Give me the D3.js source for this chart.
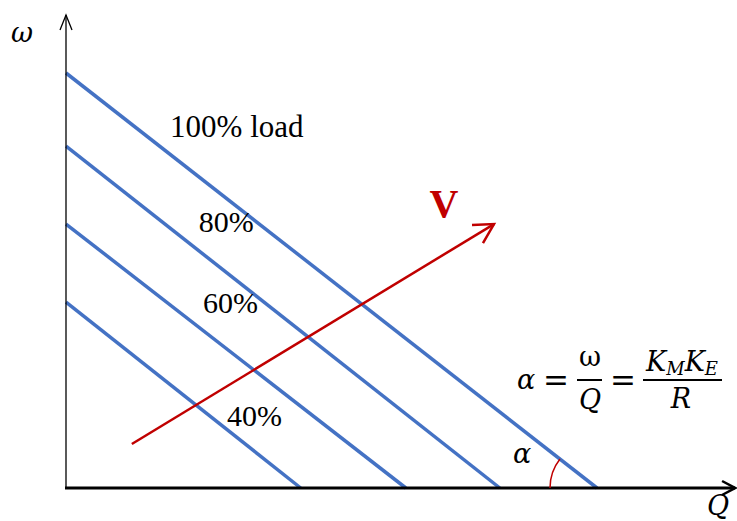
<!DOCTYPE html>
<html>
<head>
<meta charset="utf-8">
<script src="https://cdn.jsdelivr.net/npm/d3@7"></script>
<style>
  html, body { margin: 0; padding: 0; background: #fff; }
  svg { display: block; }
  text { font-family: "Liberation Serif", "Times New Roman", serif; }
  text.math, .math text { font-family: "DejaVu Serif", serif; }
</style>
</head>
<body>
<svg id="chart" width="737" height="521"></svg>
<script>
// Load lines: speed intercept (ω at Q = 0) and torque intercept (Q at ω = 0)
const loadLabels = ["100% load", "80%", "60%", "40%"];
const omegaIntercepts = [100, 82.4, 63.6, 44.8];
const qIntercepts = [100, 81.7, 64.0, 44.2];
// label anchor positions in data units
const labelQ = [19.6, 25.0, 25.8, 30.3];
const labelW = [84.6, 61.7, 42.2, 14.9];

// Voltage arrow (start, end) in data units
const vArrowQ = [12.4, 80.6];
const vArrowW = [10.6, 63.6];

// Axis extents in data units
const qMax = 126;
const wMax = 114;

const svg = d3.select("#chart");
const x = d3.scaleLinear().domain([0, 100]).range([66, 597]);
const y = d3.scaleLinear().domain([0, 100]).range([488, 73]);

const blue = "#4472C4";
const red = "#C00000";

// Load lines
svg.append("g").selectAll("line")
  .data(omegaIntercepts)
  .join("line")
  .attr("x1", x(0)).attr("y1", d => y(d))
  .attr("x2", (d, i) => x(qIntercepts[i])).attr("y2", y(0))
  .attr("stroke", blue).attr("stroke-width", 3.5);

// Axes
svg.append("line")
  .attr("x1", x(0)).attr("y1", y(0)).attr("x2", x(0)).attr("y2", y(wMax))
  .attr("stroke", "#000").attr("stroke-width", 1.3);
svg.append("path")
  .attr("d", `M${x(0) - 6},${y(wMax) + 15} L${x(0)},${y(wMax)} L${x(0) + 6},${y(wMax) + 15}`)
  .attr("fill", "none").attr("stroke", "#000").attr("stroke-width", 1.3);

svg.append("line")
  .attr("x1", x(0) - 1).attr("y1", y(0)).attr("x2", x(qMax)).attr("y2", y(0))
  .attr("stroke", "#000").attr("stroke-width", 3);
svg.append("path")
  .attr("d", `M${x(qMax) - 13},${y(0) - 7} L${x(qMax)},${y(0)} L${x(qMax) - 13},${y(0) + 7}`)
  .attr("fill", "none").attr("stroke", "#000").attr("stroke-width", 2.5);

// Angle arc at the 100% line's Q intercept
const q0 = x(qIntercepts[0]);
const slopeAngle = Math.atan2(y(0) - y(omegaIntercepts[0]), q0 - x(0));
const r = 47;
svg.append("path")
  .attr("d", `M${q0 - r},${y(0)} A${r},${r} 0 0 1 ${q0 - r * Math.cos(slopeAngle)},${y(0) - r * Math.sin(slopeAngle)}`)
  .attr("fill", "none").attr("stroke", red).attr("stroke-width", 1.5);

// Voltage arrow
const ax1 = x(vArrowQ[0]), ay1 = y(vArrowW[0]);
const ax2 = x(vArrowQ[1]), ay2 = y(vArrowW[1]);
svg.append("line")
  .attr("x1", ax1).attr("y1", ay1).attr("x2", ax2).attr("y2", ay2)
  .attr("stroke", red).attr("stroke-width", 2.5);
const ang = Math.atan2(ay2 - ay1, ax2 - ax1);
const head = 22, spread = 0.5;
svg.append("path")
  .attr("d", `M${ax2 - head * Math.cos(ang - spread)},${ay2 - head * Math.sin(ang - spread)} L${ax2},${ay2} L${ax2 - head * Math.cos(ang + spread)},${ay2 - head * Math.sin(ang + spread)}`)
  .attr("fill", "none").attr("stroke", red).attr("stroke-width", 2.5)
  .attr("stroke-linejoin", "miter");
svg.append("text")
  .attr("x", 444).attr("y", 217)
  .attr("text-anchor", "middle")
  .attr("font-size", 40).attr("font-weight", "bold").attr("fill", red)
  .text("V");

// Load labels
svg.append("g").selectAll("text")
  .data(loadLabels)
  .join("text")
  .attr("x", (d, i) => x(labelQ[i]))
  .attr("y", (d, i) => y(labelW[i]))
  .attr("font-size", (d, i) => i === 0 ? 31 : 30)
  .attr("fill", "#000")
  .text(d => d);

// Axis titles
svg.append("text").attr("class", "math").attr("x", 11).attr("y", 42)
  .attr("font-size", 27).attr("font-style", "italic").text("ω");
svg.append("text").attr("class", "math").attr("x", 707).attr("y", 515)
  .attr("font-size", 27).attr("font-style", "italic").text("Q");

// Angle label
svg.append("text").attr("class", "math").attr("x", 513).attr("y", 463)
  .attr("font-size", 27).attr("font-style", "italic").text("α");

// Slope formula
const f = svg.append("g").attr("class", "math").attr("font-size", 27);
f.append("text").attr("x", 526).attr("y", 389).attr("text-anchor", "middle").attr("font-style", "italic").text("α");
f.append("text").attr("x", 556).attr("y", 391).attr("text-anchor", "middle").attr("font-size", 31).text("=");
f.append("text").attr("x", 590).attr("y", 366).attr("text-anchor", "middle").text("ω");
f.append("line").attr("x1", 577).attr("x2", 602).attr("y1", 380).attr("y2", 380)
  .attr("stroke", "#000").attr("stroke-width", 2);
f.append("text").attr("x", 590).attr("y", 409).attr("text-anchor", "middle").attr("font-style", "italic").text("Q");
f.append("text").attr("x", 623).attr("y", 391).attr("text-anchor", "middle").attr("font-size", 31).text("=");
const num = f.append("text").attr("x", 682).attr("y", 371).attr("text-anchor", "middle").attr("font-style", "italic");
num.append("tspan").text("K");
num.append("tspan").attr("font-size", 18).attr("dy", 4).text("M");
num.append("tspan").attr("dy", -4).text("K");
num.append("tspan").attr("font-size", 18).attr("dy", 4).text("E");
f.append("line").attr("x1", 643).attr("x2", 722).attr("y1", 380).attr("y2", 380)
  .attr("stroke", "#000").attr("stroke-width", 2);
f.append("text").attr("x", 681).attr("y", 408).attr("text-anchor", "middle").attr("font-style", "italic").text("R");
</script>
</body>
</html>
